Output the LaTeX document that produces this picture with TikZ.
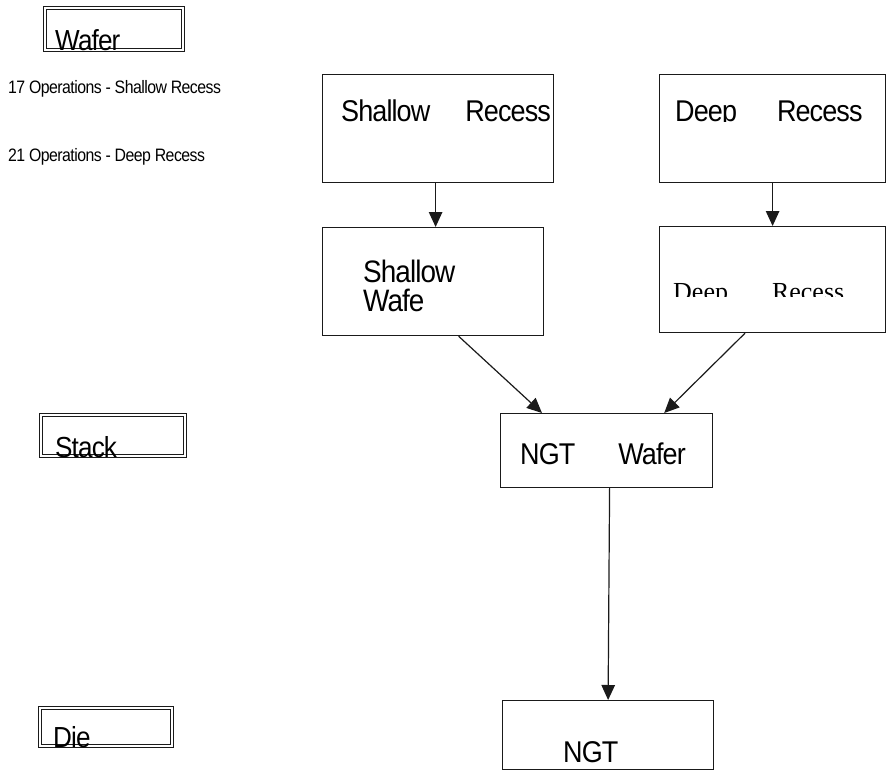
\documentclass[tikz,border=0pt]{standalone}
\usepackage{fontspec}
\newfontfamily\cf{Liberation Sans}[FakeStretch=0.9,LetterSpace=-3]
\newfontfamily\cfs{Liberation Sans}[FakeStretch=0.88,LetterSpace=-3]
\newfontfamily\serf{Liberation Serif}
\usetikzlibrary{arrows.meta}
\definecolor{ln}{HTML}{1A1A1A}
\tikzset{
  box/.style={draw=ln, line width=1.2pt, rectangle, inner sep=0pt, anchor=north west},
  dbox/.style={draw=ln, double, double distance=2.2pt, line width=1pt, rectangle, inner sep=0pt, anchor=north west},
  txt/.style={inner sep=0pt, anchor=base west, text=black},
  arr/.style={draw=ln, line width=1.2pt, -{Triangle[length=15pt,width=13.5pt]}},
}
\newcommand{\fsz}[1]{\fontsize{#1}{#1}\selectfont}
\begin{document}
\begin{tikzpicture}[x=1pt,y=-1pt]
\useasboundingbox (0,0) rectangle (887,771);
% legend boxes
\node[dbox, minimum width=138pt, minimum height=42pt] (wf) at (44.5,7.5) {};
\node[dbox, minimum width=144pt, minimum height=41pt] (st) at (40.5,414.5) {};
\node[dbox, minimum width=132pt, minimum height=38pt] (di) at (39.5,707.5) {};
\node[txt] (wft) at (55,50) {\cf\fsz{29}Wafer};
\node[txt] (stt) at (55,457) {\cf\fsz{29}Stack};
\node[txt] (dit) at (53,747) {\cf\fsz{29}Die};
\node[txt] (op1) at (8,93) {\cfs\fsz{18}17 Operations - Shallow Recess};
\node[txt] (op2) at (8,161) {\cfs\fsz{18}21 Operations - Deep Recess};
% flow boxes
\node[box, minimum width=231pt, minimum height=108pt] (sr) at (322,74) {};
\node[box, minimum width=226pt, minimum height=108pt] (dr) at (659,74) {};
\node[box, minimum width=221pt, minimum height=108pt] (sw) at (322,227) {};
\node[box, minimum width=226pt, minimum height=106pt] (dw) at (659,226) {};
\node[box, minimum width=212pt, minimum height=74pt] (ngw) at (500,413) {};
\node[box, minimum width=211pt, minimum height=69pt] (ngt) at (502,700) {};
% texts
\node[txt] (srt) at (341,121) {\cf\fsz{30}Shallow\hspace{35pt}Recess};
\begin{scope}
\clip (660,80) rectangle (884,121);
\node[txt] (drt) at (675,121) {\cf\fsz{30}Deep\hspace{40pt}Recess};
\end{scope}
\node[txt] (swt1) at (363,282) {\cf\fsz{31}Shallow};
\node[txt] (swt2) at (363,311) {\cf\fsz{31}Wafe};
\begin{scope}
\clip (660,230) rectangle (884,296);
\node[txt] (dwt) at (673,300) {\serf\fsz{26}Deep\hspace{44pt}Recess};
\end{scope}
\node[txt] (ngwt) at (520,464) {\cf\fsz{30}NGT\hspace{43pt}Wafer};
\node[txt] (ngtt) at (563,762) {\cf\fsz{30}NGT};
% connectors
\draw[arr] ([xshift=-2.5pt]sr.south) -- ([xshift=2.5pt]sw.north);
\draw[arr] (dr.south) -- (dw.north);
\draw[arr] ([xshift=25.5pt]sw.south) -- ([xshift=42pt]ngw.north west);
\draw[arr] ([xshift=86pt]dw.south west) -- ([xshift=-49pt]ngw.north east);
\draw[arr] ([xshift=3pt]ngw.south) -- (ngt.north);
\end{tikzpicture}
\end{document}
